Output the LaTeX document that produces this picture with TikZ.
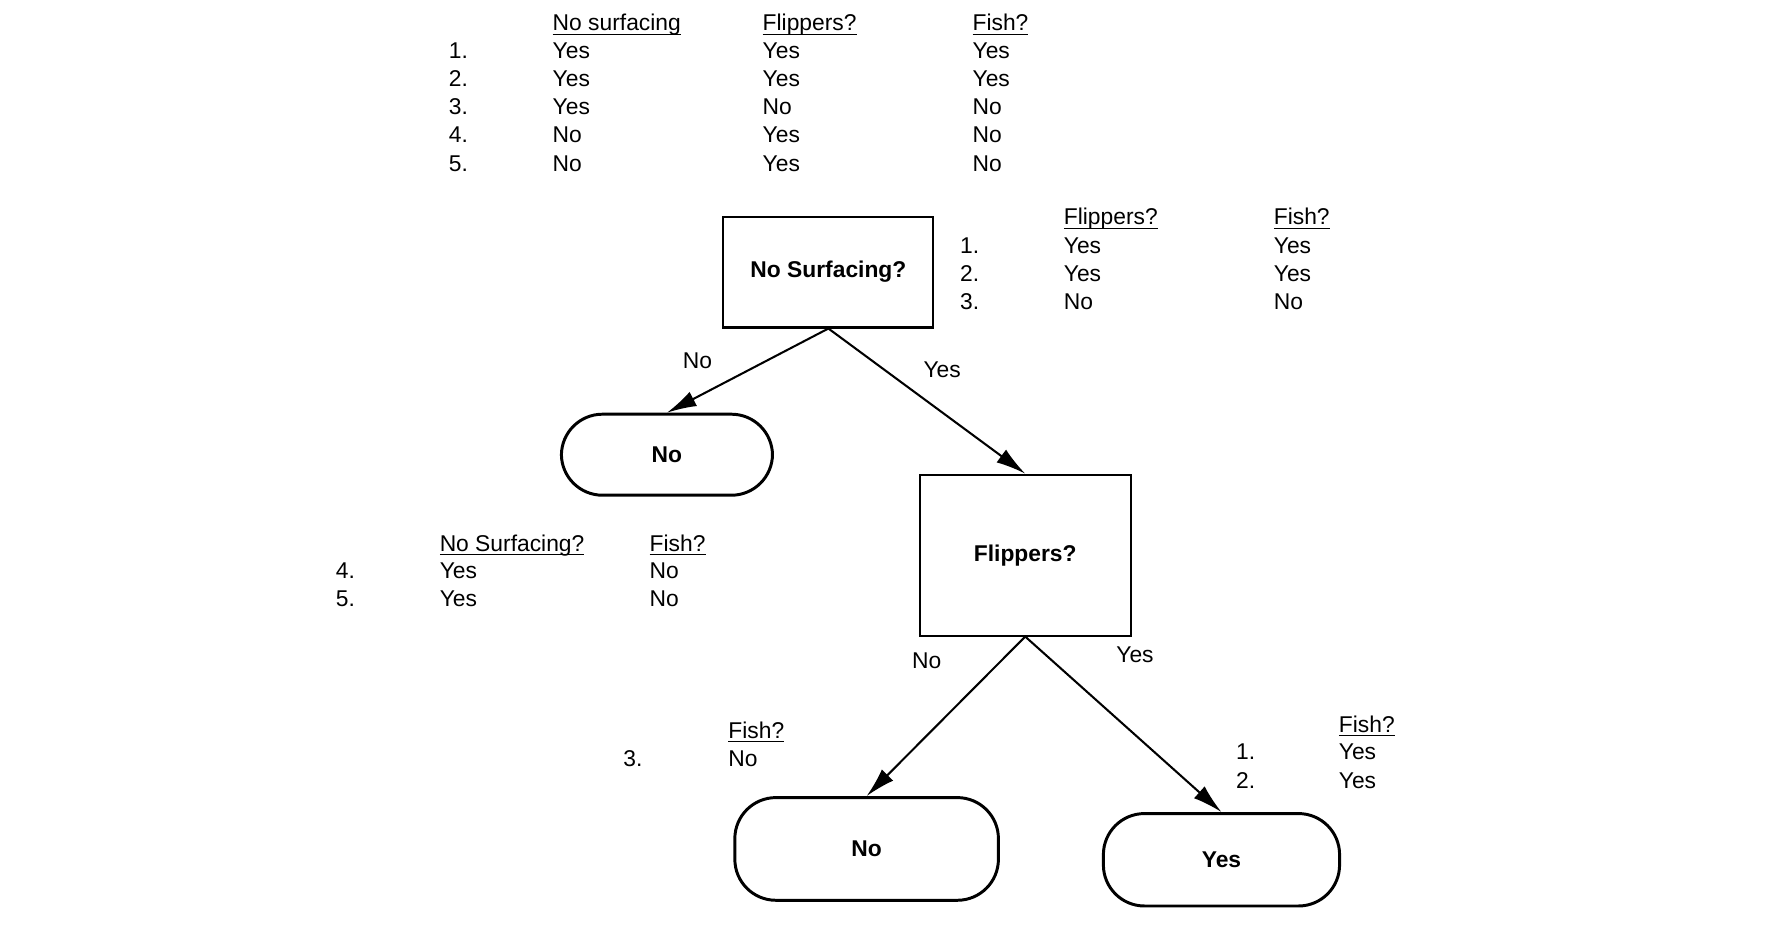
\documentclass[tikz,border=0pt]{standalone}
\usepackage{fontspec}
\setmainfont{Liberation Sans}
\usetikzlibrary{arrows.meta}
\newcommand{\colhead}[1]{\underline{\smash{#1}}}
\begin{document}
\begin{tikzpicture}[x=0.5pt,y=-0.5pt,
  every node/.style={font=\fontsize{10}{12}\selectfont},
  txt/.style={anchor=base west,inner sep=0pt},
  test/.style={draw,line width=0.9pt,inner sep=0pt,font=\fontsize{10}{12}\selectfont\bfseries},
  leaf/.style={draw,line width=1.3pt,rounded corners=18pt,inner sep=0pt,font=\fontsize{10}{12}\selectfont\bfseries},
  arr/.style={-{Latex[length=13pt,width=7pt]},line width=0.9pt}]
\useasboundingbox (-1,-1) rectangle (1566,818);
% full data set
\node[txt] (h1) at (483,26) {\colhead{No surfacing}};
\node[txt] (h2) at (667,26) {\colhead{Flippers?}};
\node[txt] (h3) at (851,26) {\colhead{Fish?}};
\foreach \a/\b/\c [count=\i] in {Yes/Yes/Yes,Yes/Yes/Yes,Yes/No/No,No/Yes/No,No/Yes/No}
{
\node[txt] (n\i) at (392,50+24.75*\i-24.75) {\i.};
\node[txt] (a\i) at (483,50+24.75*\i-24.75) {\a};
\node[txt] (b\i) at (667,50+24.75*\i-24.75) {\b};
\node[txt] (c\i) at (851,50+24.75*\i-24.75) {\c};
}
% tree
\node[test,minimum width=92pt,minimum height=48.5pt] (surf) at (725,237.5) {No Surfacing?};
\node[leaf,minimum width=92.5pt,minimum height=35.5pt] (leafno) at (583.5,397.5) {No};
\node[test,minimum width=92.5pt,minimum height=70.5pt] (flip) at (897.5,485.5) {Flippers?};
\node[leaf,minimum width=115.5pt,minimum height=45pt] (fishno) at (758.5,743) {No};
\node[leaf,minimum width=103.5pt,minimum height=40.5pt] (fishyes) at (1069.5,752.5) {Yes};
\draw[arr] (surf.south) -- (leafno.north);
\draw[arr] (surf.south) -- (flip.north);
\draw[arr] (flip.south) -- (fishno.north);
\draw[arr] (flip.south) -- (fishyes.north);
\node[txt] (lsn) at (597,322) {No};
\node[txt] (lsy) at (808,330) {Yes};
\node[txt] (lfn) at (798,585) {No};
\node[txt] (lfy) at (977,580) {Yes};
% split: no surfacing = yes
\node[txt] (rh1) at (931,196) {\colhead{Flippers?}};
\node[txt] (rh2) at (1115,196) {\colhead{Fish?}};
\foreach \a/\b [count=\i] in {Yes/Yes,Yes/Yes,No/No}
{
\node[txt] (rn\i) at (840,221+24.75*\i-24.75) {\i.};
\node[txt] (ra\i) at (931,221+24.75*\i-24.75) {\a};
\node[txt] (rb\i) at (1115,221+24.75*\i-24.75) {\b};
}
% split: no surfacing = no
\node[txt] (lh1) at (384,482) {\colhead{No Surfacing?}};
\node[txt] (lh2) at (568,482) {\colhead{Fish?}};
\foreach \n [count=\i] in {4,5}
{
\node[txt] (ln\i) at (293,506+24.75*\i-24.75) {\n.};
\node[txt] (la\i) at (384,506+24.75*\i-24.75) {Yes};
\node[txt] (lb\i) at (568,506+24.75*\i-24.75) {No};
}
% split: flippers
\node[txt] (fh) at (637,646) {\colhead{Fish?}};
\node[txt] (fn) at (545,671) {3.};
\node[txt] (fa) at (637,671) {No};
\node[txt] (gh) at (1172,641) {\colhead{Fish?}};
\foreach \i in {1,2}
{
\node[txt] (gn\i) at (1082,665+24.75*\i-24.75) {\i.};
\node[txt] (ga\i) at (1172,665+24.75*\i-24.75) {Yes};
}
\end{tikzpicture}
\end{document}
